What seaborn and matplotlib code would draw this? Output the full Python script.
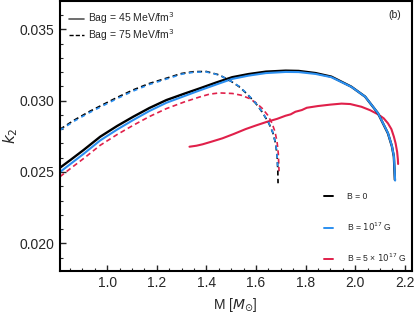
import numpy as np
import pandas as pd
import matplotlib
matplotlib.use("Agg")
import matplotlib.pyplot as plt
from matplotlib.lines import Line2D
from matplotlib.ticker import MultipleLocator, FormatStrFormatter
import seaborn as sns

# ---------------- data ----------------
# Bag = 45 MeV/fm^3
M45_B0 = [0.81, 0.852, 0.905, 0.972, 1.04, 1.105, 1.17, 1.239, 1.31, 1.372, 1.44, 1.504,
          1.57, 1.64, 1.72, 1.772, 1.84, 1.904, 1.984, 2.04, 2.092, 2.132, 2.148, 2.156, 2.16]
k45_B0 = [0.02530, 0.02584, 0.02654, 0.02747, 0.02822, 0.02887, 0.02948, 0.03004, 0.03048,
          0.03085, 0.03127, 0.03164, 0.03186, 0.03203, 0.03210, 0.03208, 0.03193, 0.03168,
          0.03098, 0.03028, 0.02911, 0.02771, 0.02680, 0.02607, 0.02445]

M45_B1 = [0.81, 0.852, 0.905, 0.972, 1.04, 1.105, 1.17, 1.239, 1.31, 1.372, 1.44, 1.504,
          1.57, 1.64, 1.72, 1.772, 1.84, 1.904, 1.984, 2.04, 2.092, 2.132, 2.148, 2.156, 2.161]
k45_B1 = [0.02500, 0.02556, 0.02627, 0.02721, 0.02797, 0.02864, 0.02927, 0.02985, 0.03031,
          0.03071, 0.03113, 0.03152, 0.03175, 0.03193, 0.03201, 0.03200, 0.03187, 0.03164,
          0.03097, 0.03028, 0.02912, 0.02773, 0.02682, 0.02610, 0.02440]

M45_B5 = [1.332, 1.36, 1.385, 1.42, 1.465, 1.51, 1.559, 1.60, 1.645, 1.685, 1.719, 1.74,
          1.759, 1.785, 1.805, 1.85, 1.90, 1.945, 1.98, 2.025, 2.06, 2.092, 2.115, 2.132,
          2.146, 2.156, 2.163, 2.169, 2.172, 2.173]
k45_B5 = [0.02677, 0.02684, 0.02694, 0.02712, 0.02736, 0.02766, 0.02801, 0.02826, 0.02852,
          0.02872, 0.02894, 0.02904, 0.02922, 0.02934, 0.02950, 0.02962, 0.02972, 0.02979,
          0.02976, 0.02957, 0.02933, 0.02904, 0.02876, 0.02841, 0.02800, 0.02747, 0.02700,
          0.02642, 0.02590, 0.02556]

# Bag = 75 MeV/fm^3
M75_B0 = [0.81, 0.87, 0.93, 0.972, 1.04, 1.105, 1.17, 1.239, 1.30, 1.35, 1.40, 1.452, 1.50,
          1.532, 1.565, 1.599, 1.625, 1.652, 1.668, 1.679, 1.685, 1.688, 1.689]
k75_B0 = [0.02799, 0.02866, 0.02925, 0.02962, 0.03022, 0.03075, 0.03120, 0.03157, 0.03190,
          0.03203, 0.03204, 0.03180, 0.03135, 0.03098, 0.03045, 0.02981, 0.02920, 0.02841,
          0.02775, 0.02701, 0.02620, 0.02520, 0.02421]

M75_B1 = [0.81, 0.87, 0.93, 0.972, 1.04, 1.105, 1.17, 1.239, 1.30, 1.35, 1.40, 1.452, 1.50,
          1.532, 1.565, 1.599, 1.625, 1.652, 1.668, 1.679, 1.685, 1.688]
k75_B1 = [0.02793, 0.02859, 0.02917, 0.02954, 0.03014, 0.03067, 0.03113, 0.03151, 0.03185,
          0.03199, 0.03201, 0.03179, 0.03136, 0.03100, 0.03047, 0.02983, 0.02922, 0.02843,
          0.02777, 0.02703, 0.02622, 0.02520]

M75_B5 = [0.81, 0.852, 0.905, 0.972, 1.04, 1.105, 1.17, 1.239, 1.31, 1.372, 1.412, 1.452,
          1.505, 1.54, 1.572, 1.60, 1.625, 1.647, 1.665, 1.677, 1.685, 1.690, 1.692, 1.693]
k75_B5 = [0.02467, 0.02524, 0.02594, 0.02687, 0.02762, 0.02827, 0.02888, 0.02944, 0.02990,
          0.03025, 0.03045, 0.03054, 0.03050, 0.03038, 0.03016, 0.02985, 0.02946, 0.02899,
          0.02841, 0.02780, 0.02712, 0.02630, 0.02549, 0.02505]

field_labels = ["B = 0", "B = $10^{17}$ G", "B = 5 × $10^{17}$ G"]
bag_labels = ["Bag = 45 MeV/fm$^3$", "Bag = 75 MeV/fm$^3$"]
colors = ["#000000", "#2b8ff0", "#e0204a"]

# ---------------- build table ----------------
curves = [
    (M45_B5, k45_B5, 2, "45"), (M45_B0, k45_B0, 0, "45"), (M45_B1, k45_B1, 1, "45"),
    (M75_B5, k75_B5, 2, "75"), (M75_B0, k75_B0, 0, "75"), (M75_B1, k75_B1, 1, "75"),
]
frames = []
for i, (m, k, b, bag) in enumerate(curves):
    frames.append(pd.DataFrame({"M": m, "k2": k, "B": b, "Bag": bag, "cid": i}))
df = pd.concat(frames, ignore_index=True)

sns.set_style("ticks")
plt.rcParams["font.family"] = ["Liberation Sans", "DejaVu Sans"]
plt.rcParams["mathtext.fontset"] = "dejavusans"

fig = plt.figure(figsize=(4.15, 3.15), dpi=100)
ax = fig.add_axes([60 / 415, 1 - 270.6 / 315, (411.5 - 60) / 415, (270.6 - 1) / 315])

for cid in range(len(curves)):
    sub = df[df["cid"] == cid]
    b = int(sub["B"].iloc[0])
    bag = sub["Bag"].iloc[0]
    if bag == "45":
        lw = 1.7 if b == 0 else 1.5
        sns.lineplot(data=sub, x="M", y="k2", sort=False, estimator=None, ax=ax,
                     color=colors[b], linewidth=lw, legend=False)
    else:
        sns.lineplot(data=sub, x="M", y="k2", sort=False, estimator=None, ax=ax,
                     color=colors[b], linewidth=1.2, legend=False)
        if b == 1:
            ax.lines[-1].set_dashes((2.5, 2.5))
        else:
            ax.lines[-1].set_dashes((3.0, 2.0))

ax.set_xlim(0.81, 2.227)
ax.set_ylim(0.01809, 0.03698)
ax.xaxis.set_major_locator(MultipleLocator(0.2))
ax.xaxis.set_minor_locator(MultipleLocator(0.05))
ax.yaxis.set_major_locator(MultipleLocator(0.005))
ax.yaxis.set_minor_locator(MultipleLocator(0.001))
ax.xaxis.set_major_formatter(FormatStrFormatter("%.1f"))
ax.yaxis.set_major_formatter(FormatStrFormatter("%.3f"))
ax.tick_params(which="major", direction="in", length=4, width=1, labelsize=10,
               top=False, right=False, pad=4)
ax.tick_params(which="minor", direction="in", length=2, width=0.8, top=False, right=False)
for s in ax.spines.values():
    s.set_linewidth(1.5)
    s.set_color("black")

ax.set_xlabel(r"M [$M_{\odot}$]", fontsize=10, labelpad=4)
ax.set_ylabel(r"$k_2$", fontsize=11, labelpad=0)

# Bag legend
h1 = [Line2D([], [], color="#555555", lw=1.2),
      Line2D([], [], color="black", lw=1.0, dashes=(3.0, 1.5))]
leg1 = ax.legend(h1, bag_labels, loc="upper left", bbox_to_anchor=(0.025, 0.965),
                 frameon=False, fontsize=7.5, handlelength=1.5, handletextpad=0.35,
                 labelspacing=0.1, borderpad=0, borderaxespad=0)
ax.add_artist(leg1)

# Field legend
h2 = [Line2D([], [], color=c, lw=1.4) for c in colors]
leg2 = ax.legend(h2, field_labels, loc="lower right", bbox_to_anchor=(0.985, 0.025),
                 frameon=False, fontsize=6.2, handlelength=1.0, handletextpad=1.6,
                 labelspacing=2.2, borderpad=0, borderaxespad=0)

ax.text(0.953, 0.948, "(b)", transform=ax.transAxes, fontsize=7.5, ha="center", va="center")

fig.savefig("out.png", dpi=100)
